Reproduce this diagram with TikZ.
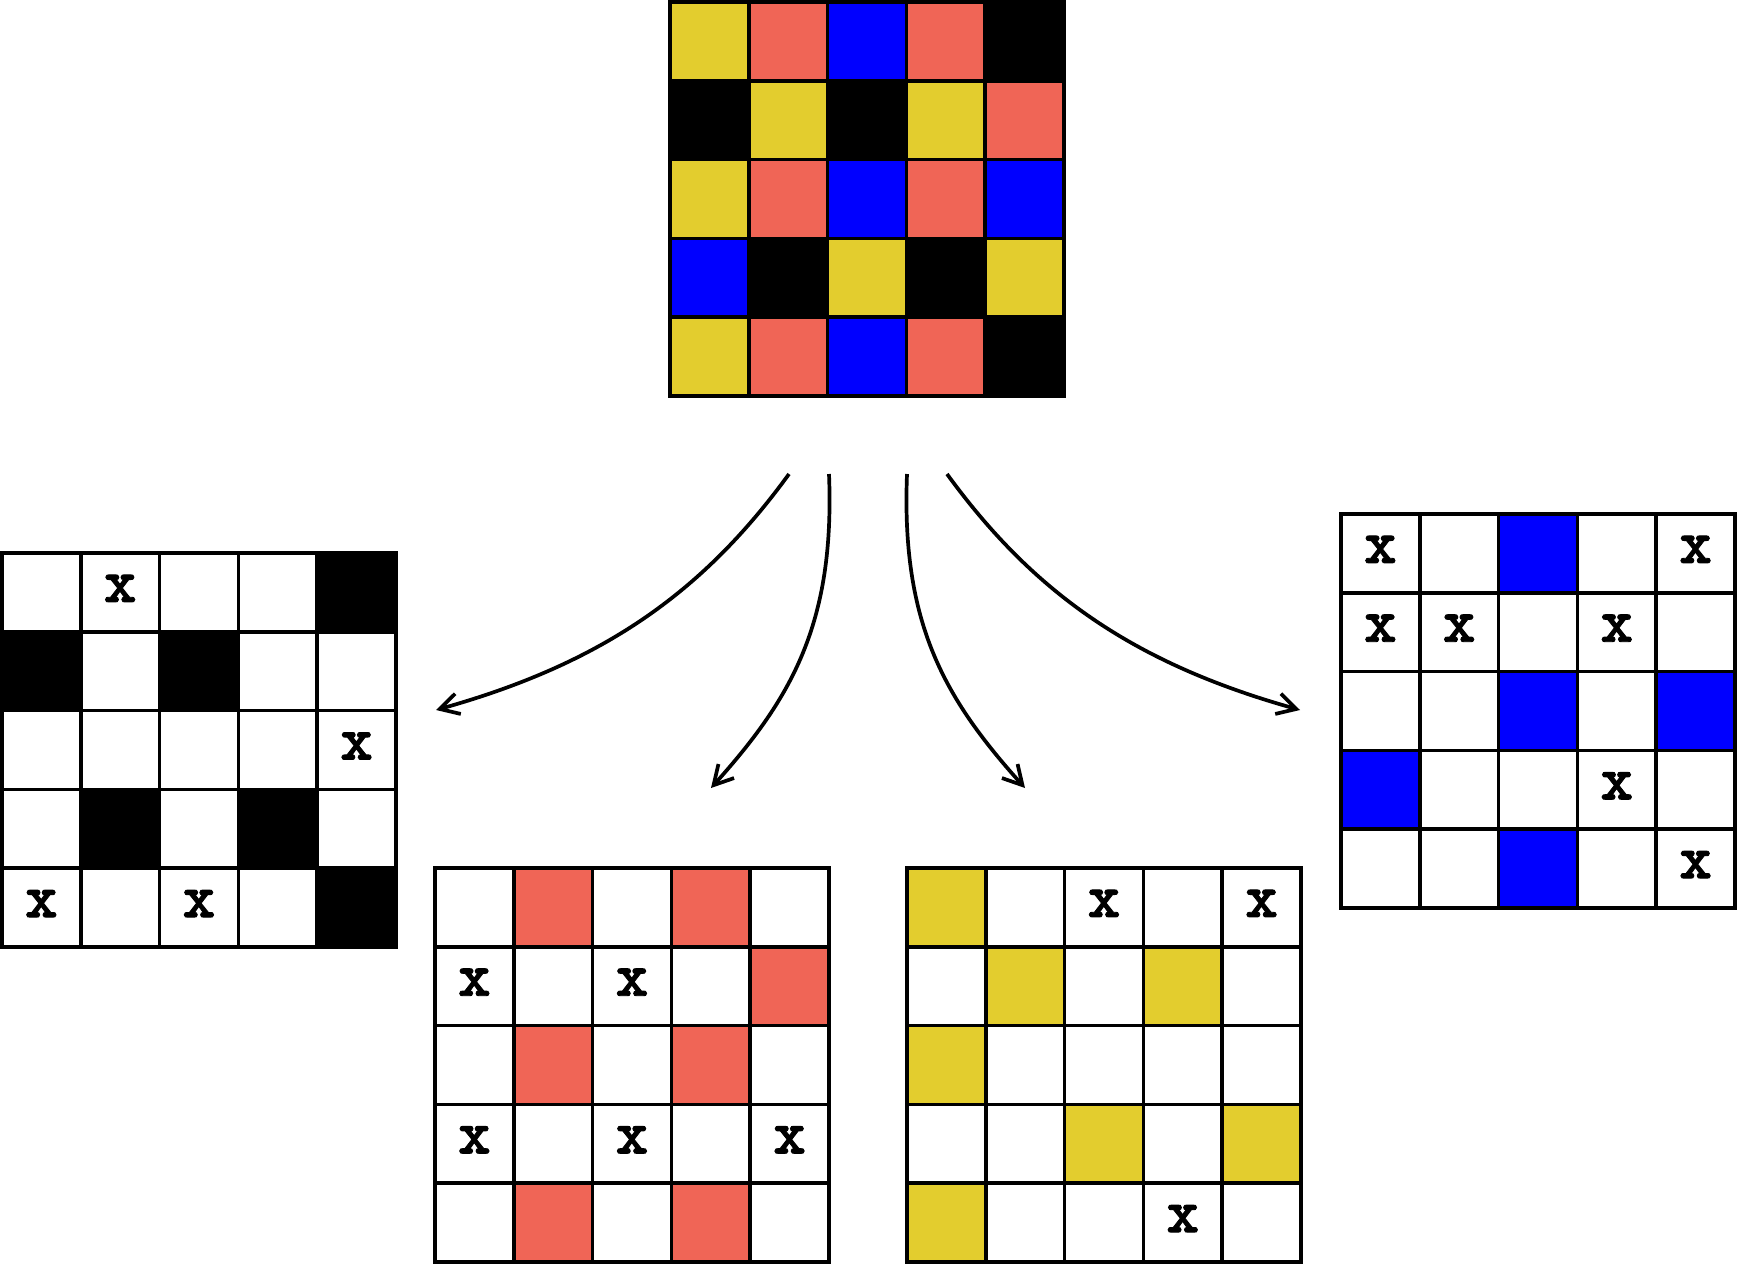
\documentclass[tikz,border=0pt]{standalone}
\usepackage{fontspec}
\usetikzlibrary{arrows.meta}
\newfontfamily\xfont{lmmonolt10-bold.otf}[FakeBold=1.5]
\definecolor{cY}{RGB}{227,205,46}
\definecolor{cP}{RGB}{240,101,86}
\definecolor{cB}{RGB}{0,0,255}
\colorlet{cK}{black}
\colorlet{cW}{white}
\colorlet{cX}{white}
\def\xletter{X}
\tikzset{
  cell/.style={rectangle, draw, line width=1.85pt, minimum width=39.4pt, minimum height=39.4pt, inner sep=0pt, outer sep=0pt},
  xmark/.style={font=\fontsize{31}{31}\selectfont\xfont, inner sep=0pt, yshift=2pt},
  arr/.style={line width=1.85pt, -{Straight Barb[length=9.5pt,width=10.5pt]}},
}
\newcommand{\drawgrid}[4]{%
  \foreach \c [count=\n from 0] in {#4} {
    \pgfmathtruncatemacro{\myrow}{\n/5}
    \pgfmathtruncatemacro{\mycol}{\n-5*\myrow}
    \node[cell, fill=c\c] (#1-\myrow-\mycol) at ({#2+78.8*(\mycol+0.5)}, {#3+78.8*(\myrow+0.5)}) {};
    \ifx\c\xletter \node[xmark] (#1-x-\myrow-\mycol) at (#1-\myrow-\mycol) {x}; \fi
  }
}
\begin{document}
\begin{tikzpicture}[x=0.5pt, y=-0.5pt]
\useasboundingbox (0,0) rectangle (1738,1264);
% top colour grid
\drawgrid{top}{670}{2}{Y,P,B,P,K, K,Y,K,Y,P, Y,P,B,P,B, B,K,Y,K,Y, Y,P,B,P,K}
% black grid
\drawgrid{blk}{2}{553}{W,X,W,W,K, K,W,K,W,W, W,W,W,W,X, W,K,W,K,W, X,W,X,W,K}
% pink grid
\drawgrid{pnk}{435}{868}{W,P,W,P,W, X,W,X,W,P, W,P,W,P,W, X,W,X,W,X, W,P,W,P,W}
% yellow grid
\drawgrid{yel}{907}{868}{Y,W,X,W,X, W,Y,W,Y,W, Y,W,W,W,W, W,W,Y,W,Y, Y,W,W,X,W}
% blue grid
\drawgrid{blu}{1341}{514}{X,W,B,W,X, X,X,W,X,W, W,W,B,W,B, B,W,W,X,W, W,W,B,W,X}
% arrows
\coordinate (s1) at (789,474);  \coordinate (e1) at (436,710);
\coordinate (s2) at (829,474);  \coordinate (e2) at (711,788);
\coordinate (s3) at (907,474);  \coordinate (e3) at (1025,788);
\coordinate (s4) at (947,474);  \coordinate (e4) at (1300,710);
\draw[arr] (s1) .. controls (701,595) and (600,664) .. (e1);
\draw[arr] (s2) .. controls (835,624) and (791,699) .. (e2);
\draw[arr] (s3) .. controls (901,624) and (945,699) .. (e3);
\draw[arr] (s4) .. controls (1035,595) and (1136,664) .. (e4);
\end{tikzpicture}
\end{document}
